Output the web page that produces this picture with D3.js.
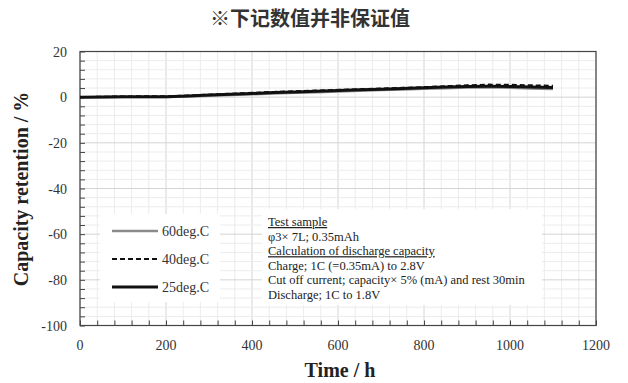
<!DOCTYPE html>
<html>
<head>
<meta charset="utf-8">
<script src="https://cdn.jsdelivr.net/npm/d3@7"></script>
<style>
  body { margin: 0; background: #fff; }
  svg { display: block; }
</style>
</head>
<body>
<svg id="chart" width="628" height="383"></svg>
<script>
// hours
var time = [0, 50, 100, 150, 200, 250, 300, 350, 400, 450, 500, 550, 600, 650, 700, 750, 800, 850, 900, 950, 1000, 1050, 1100];
// capacity retention (%)
var deg60 = [0, 0, 0.1, 0.1, 0.1, 0.3, 0.6, 1.0, 1.3, 1.6, 1.9, 2.2, 2.5, 2.8, 3.1, 3.4, 3.7, 3.9, 4.2, 4.3, 4.1, 3.8, 3.6];
var deg40 = [0, 0.2, 0.3, 0.4, 0.4, 0.7, 1.1, 1.5, 1.9, 2.3, 2.6, 2.9, 3.2, 3.5, 3.8, 4.1, 4.4, 4.8, 5.2, 5.5, 5.4, 5.2, 5.0];
var deg25 = [0, 0.1, 0.2, 0.2, 0.2, 0.5, 0.9, 1.3, 1.6, 2.0, 2.3, 2.6, 2.9, 3.2, 3.5, 3.8, 4.1, 4.4, 4.7, 4.8, 4.7, 4.4, 4.2];

var xTicks = [0, 200, 400, 600, 800, 1000, 1200];
var yTicks = [20, 0, -20, -40, -60, -80, -100];

var seriesNames = ['60deg.C', '40deg.C', '25deg.C'];
var noteLines = [
  'Test sample',
  'φ3× 7L; 0.35mAh',
  'Calculation  of discharge capacity',
  'Charge; 1C (=0.35mA) to 2.8V',
  'Cut off current; capacity× 5% (mA) and rest 30min',
  'Discharge; 1C to 1.8V'
];
var noteUnderline = [true, false, true, false, false, false];

var serif = '"Liberation Serif", "Times New Roman", serif';
var svg = d3.select('#chart');

var plotL = 80, plotR = 596, plotT = 51.5, plotB = 325.5;

var xScale = d3.scaleLinear().domain([0, 1200]).range([plotL, plotR]);
var yScale = d3.scaleLinear().domain([-100, 20]).range([plotB, plotT]);

// title
svg.append('text')
  .attr('x', 310).attr('y', 26)
  .attr('text-anchor', 'middle')
  .attr('font-family', '"Noto Sans CJK SC", sans-serif')
  .attr('font-weight', 'bold')
  .attr('font-size', '20px')
  .attr('fill', '#333')
  .text('※下记数值并非保证值');

// grid: minor every 40 h / 4 %, major at ticks
var grid = svg.append('g');
d3.range(0, 1201, 40).forEach(function (v) {
  grid.append('line')
    .attr('x1', xScale(v)).attr('x2', xScale(v))
    .attr('y1', plotT).attr('y2', plotB)
    .attr('stroke', v % 200 === 0 ? '#d4d4d4' : '#ececec')
    .attr('stroke-width', 1);
});
d3.range(-100, 21, 4).forEach(function (v) {
  grid.append('line')
    .attr('x1', plotL).attr('x2', plotR)
    .attr('y1', yScale(v)).attr('y2', yScale(v))
    .attr('stroke', v % 20 === 0 ? '#d4d4d4' : '#ececec')
    .attr('stroke-width', 1);
});

// boxes for legend and note (hide the grid)
svg.append('rect')
  .attr('x', 100).attr('y', 214).attr('width', 120).attr('height', 88)
  .attr('fill', '#fff');
svg.append('rect')
  .attr('x', 262).attr('y', 209).attr('width', 280).attr('height', 96)
  .attr('fill', '#fff');

// axes with inner ticks
var xAxis = d3.axisBottom(xScale).tickValues(d3.range(0, 1201, 40))
  .tickSize(-5).tickFormat('');
svg.append('g').attr('transform', 'translate(0,' + plotB + ')').call(xAxis)
  .call(function (g) { g.select('.domain').remove(); })
  .selectAll('line').attr('stroke', '#444');

var yAxis = d3.axisLeft(yScale).tickValues(d3.range(-100, 21, 4))
  .tickSize(-5).tickFormat('');
svg.append('g').attr('transform', 'translate(' + plotL + ',0)').call(yAxis)
  .call(function (g) { g.select('.domain').remove(); })
  .selectAll('line').attr('stroke', '#444');

// frame
svg.append('rect')
  .attr('x', plotL).attr('y', plotT)
  .attr('width', plotR - plotL).attr('height', plotB - plotT)
  .attr('fill', 'none').attr('stroke', '#444').attr('stroke-width', 1.2);

// tick labels
svg.selectAll('.xl').data(xTicks).enter().append('text')
  .attr('x', function (d) { return xScale(d); })
  .attr('y', 350)
  .attr('text-anchor', 'middle')
  .attr('font-family', serif).attr('font-size', '14px').attr('fill', '#333')
  .text(function (d) { return d; });

svg.selectAll('.yl').data(yTicks).enter().append('text')
  .attr('x', 67)
  .attr('y', function (d) { return yScale(d) + 5; })
  .attr('text-anchor', 'end')
  .attr('font-family', serif).attr('font-size', '14px').attr('fill', '#333')
  .text(function (d) { return d; });

// axis titles
svg.append('text')
  .attr('x', 340).attr('y', 377)
  .attr('text-anchor', 'middle')
  .attr('font-family', serif).attr('font-weight', 'bold').attr('font-size', '20px')
  .attr('fill', '#222')
  .text('Time / h');

svg.append('text')
  .attr('transform', 'translate(28,189) rotate(-90)')
  .attr('text-anchor', 'middle')
  .attr('font-family', serif).attr('font-weight', 'bold').attr('font-size', '20px')
  .attr('fill', '#222')
  .text('Capacity  retention / %');

// lines
var series = [
  { name: seriesNames[0], values: deg60, color: '#8a8a8a', width: 2.5, dash: null },
  { name: seriesNames[1], values: deg40, color: '#111', width: 2, dash: '5,3' },
  { name: seriesNames[2], values: deg25, color: '#111', width: 3, dash: null }
];

var line = d3.line()
  .x(function (d) { return xScale(d[0]); })
  .y(function (d) { return yScale(d[1]); });

series.forEach(function (s) {
  svg.append('path')
    .datum(time.map(function (t, i) { return [t, s.values[i]]; }))
    .attr('d', line)
    .attr('fill', 'none')
    .attr('stroke', s.color)
    .attr('stroke-width', s.width)
    .attr('stroke-dasharray', s.dash);
});

// legend
var legend = svg.selectAll('.lg').data(series).enter().append('g')
  .attr('transform', function (d, i) { return 'translate(112,' + (231 + i * 28) + ')'; });
legend.append('line')
  .attr('x1', 0).attr('x2', 46)
  .attr('stroke', function (d) { return d.color; })
  .attr('stroke-width', function (d) { return d.width; })
  .attr('stroke-dasharray', function (d) { return d.dash; });
legend.append('text')
  .attr('x', 50).attr('y', 5)
  .attr('font-family', serif).attr('font-size', '14px').attr('fill', '#333')
  .text(function (d) { return d.name; });

// note text
svg.selectAll('.note').data(noteLines).enter().append('text')
  .attr('x', 268)
  .attr('y', function (d, i) { return 226 + i * 14.6; })
  .attr('font-family', serif).attr('font-size', '12.5px').attr('fill', '#222')
  .attr('text-decoration', function (d, i) { return noteUnderline[i] ? 'underline' : null; })
  .text(function (d) { return d; });
</script>
</body>
</html>
